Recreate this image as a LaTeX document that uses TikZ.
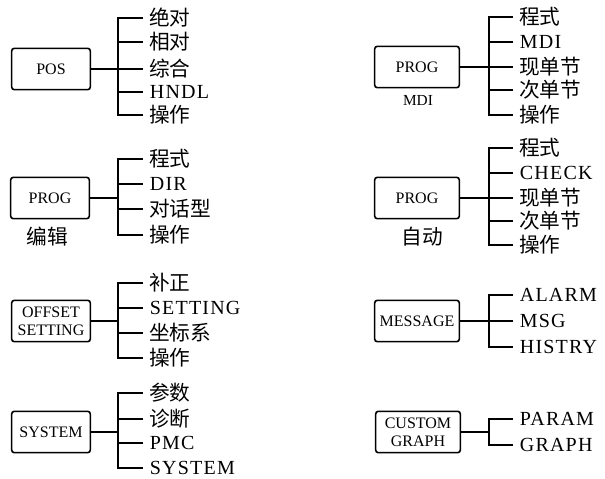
\documentclass[tikz,border=0pt]{standalone}
\usepackage{fontspec}
\setmainfont{Liberation Serif}
\newfontfamily\cjk{Noto Sans CJK SC}
\newfontfamily\spaced[LetterSpace=6]{Liberation Serif}

\begin{document}
\begin{tikzpicture}[
x=0.75pt, y=-0.75pt,
box/.style={draw, line width=1.2pt, rounded corners=2pt, align=center, minimum width=59pt, minimum height=31pt, inner sep=1pt, font=\fontsize{12}{13.5}\selectfont},
wbox/.style={box, minimum width=63.5pt},
opt/.style={anchor=west, inner xsep=5pt, inner ysep=0pt, font=\spaced\fontsize{15}{18}\selectfont},
zh/.style={anchor=west, inner xsep=4.5pt, inner ysep=0pt, font=\cjk\fontsize{15.5}{18}\selectfont},
sub/.style={inner sep=0pt},
link/.style={line width=0.9pt}
]
\useasboundingbox (0,0) rectangle (605,478);

% POS
\node[box] (pos) at (51,69) {POS};
\coordinate (pos-t) at (118,69);
\node[zh] (pos-1) at (143,18) {绝对};
\node[zh] (pos-2) at (143,42) {相对};
\node[zh] (pos-3) at (143,69) {综合};
\node[opt] (pos-4) at (143,92) {HNDL};
\node[zh] (pos-5) at (143,115) {操作};
\draw[link] (pos.east) -- (pos-t);
\draw[link] (pos-1.west) -| (pos-t) |- (pos-5.west);
\draw[link] (pos-t |- pos-2.west) -- (pos-2.west);
\draw[link] (pos-t |- pos-3.west) -- (pos-3.west);
\draw[link] (pos-t |- pos-4.west) -- (pos-4.west);

% PROG / MDI
\node[wbox] (mdi) at (417,67) {PROG};
\node[sub, font=\fontsize{11.5}{13}\selectfont] (mdi-lbl) at (418,100) {MDI};
\coordinate (mdi-t) at (489,67);
\node[zh] (mdi-1) at (513,17) {程式};
\node[opt] (mdi-2) at (513,42) {MDI};
\node[zh] (mdi-3) at (513,67) {现单节};
\node[zh] (mdi-4) at (513,90) {次单节};
\node[zh] (mdi-5) at (513,115) {操作};
\draw[link] (mdi.east) -- (mdi-t);
\draw[link] (mdi-1.west) -| (mdi-t) |- (mdi-5.west);
\draw[link] (mdi-t |- mdi-2.west) -- (mdi-2.west);
\draw[link] (mdi-t |- mdi-3.west) -- (mdi-3.west);
\draw[link] (mdi-t |- mdi-4.west) -- (mdi-4.west);

% PROG / edit
\node[box] (edit) at (50,198) {PROG};
\node[sub, font=\cjk\fontsize{15.5}{18}\selectfont] (edit-lbl) at (47,237) {编辑};
\coordinate (edit-t) at (118,198);
\node[zh] (edit-1) at (143,159) {程式};
\node[opt] (edit-2) at (143,184) {DIR};
\node[zh] (edit-3) at (143,209) {对话型};
\node[zh] (edit-4) at (143,235) {操作};
\draw[link] (edit.east) -- (edit-t);
\draw[link] (edit-1.west) -| (edit-t) |- (edit-4.west);
\draw[link] (edit-t |- edit-2.west) -- (edit-2.west);
\draw[link] (edit-t |- edit-3.west) -- (edit-3.west);

% PROG / auto
\node[wbox] (auto) at (417,198) {PROG};
\node[sub, font=\cjk\fontsize{15.5}{18}\selectfont] (auto-lbl) at (422,237) {自动};
\coordinate (auto-t) at (489,198);
\node[zh] (auto-1) at (513,148) {程式};
\node[opt] (auto-2) at (513,173) {CHECK};
\node[zh] (auto-3) at (513,198) {现单节};
\node[zh] (auto-4) at (513,221) {次单节};
\node[zh] (auto-5) at (513,245) {操作};
\draw[link] (auto.east) -- (auto-t);
\draw[link] (auto-1.west) -| (auto-t) |- (auto-5.west);
\draw[link] (auto-t |- auto-2.west) -- (auto-2.west);
\draw[link] (auto-t |- auto-3.west) -- (auto-3.west);
\draw[link] (auto-t |- auto-4.west) -- (auto-4.west);

% OFFSET SETTING
\node[box] (ofs) at (51,321) {OFFSET\\SETTING};
\coordinate (ofs-t) at (118,321);
\node[zh] (ofs-1) at (143,283) {补正};
\node[opt] (ofs-2) at (143,308) {SETTING};
\node[zh] (ofs-3) at (143,333) {坐标系};
\node[zh] (ofs-4) at (143,358) {操作};
\draw[link] (ofs.east) -- (ofs-t);
\draw[link] (ofs-1.west) -| (ofs-t) |- (ofs-4.west);
\draw[link] (ofs-t |- ofs-2.west) -- (ofs-2.west);
\draw[link] (ofs-t |- ofs-3.west) -- (ofs-3.west);

% MESSAGE
\node[wbox] (msg) at (417,321) {MESSAGE};
\coordinate (msg-t) at (489,321);
\node[opt] (msg-1) at (513,295) {ALARM};
\node[opt] (msg-2) at (513,321) {MSG};
\node[opt] (msg-3) at (513,347) {HISTRY};
\draw[link] (msg.east) -- (msg-t);
\draw[link] (msg-1.west) -| (msg-t) |- (msg-3.west);
\draw[link] (msg-t |- msg-2.west) -- (msg-2.west);

% SYSTEM
\node[box] (sys) at (51,432) {SYSTEM};
\coordinate (sys-t) at (118,432);
\node[zh] (sys-1) at (143,393) {参数};
\node[zh] (sys-2) at (143,419) {诊断};
\node[opt] (sys-3) at (143,443) {PMC};
\node[opt] (sys-4) at (143,468) {SYSTEM};
\draw[link] (sys.east) -- (sys-t);
\draw[link] (sys-1.west) -| (sys-t) |- (sys-4.west);
\draw[link] (sys-t |- sys-2.west) -- (sys-2.west);
\draw[link] (sys-t |- sys-3.west) -- (sys-3.west);

% CUSTOM GRAPH
\node[wbox] (cus) at (418,432) {CUSTOM\\GRAPH};
\coordinate (cus-t) at (489,432);
\node[opt] (cus-1) at (513,419) {PARAM};
\node[opt] (cus-2) at (513,445) {GRAPH};
\draw[link] (cus.east) -- (cus-t);
\draw[link] (cus-1.west) -| (cus-t) |- (cus-2.west);
\end{tikzpicture}
\end{document}
